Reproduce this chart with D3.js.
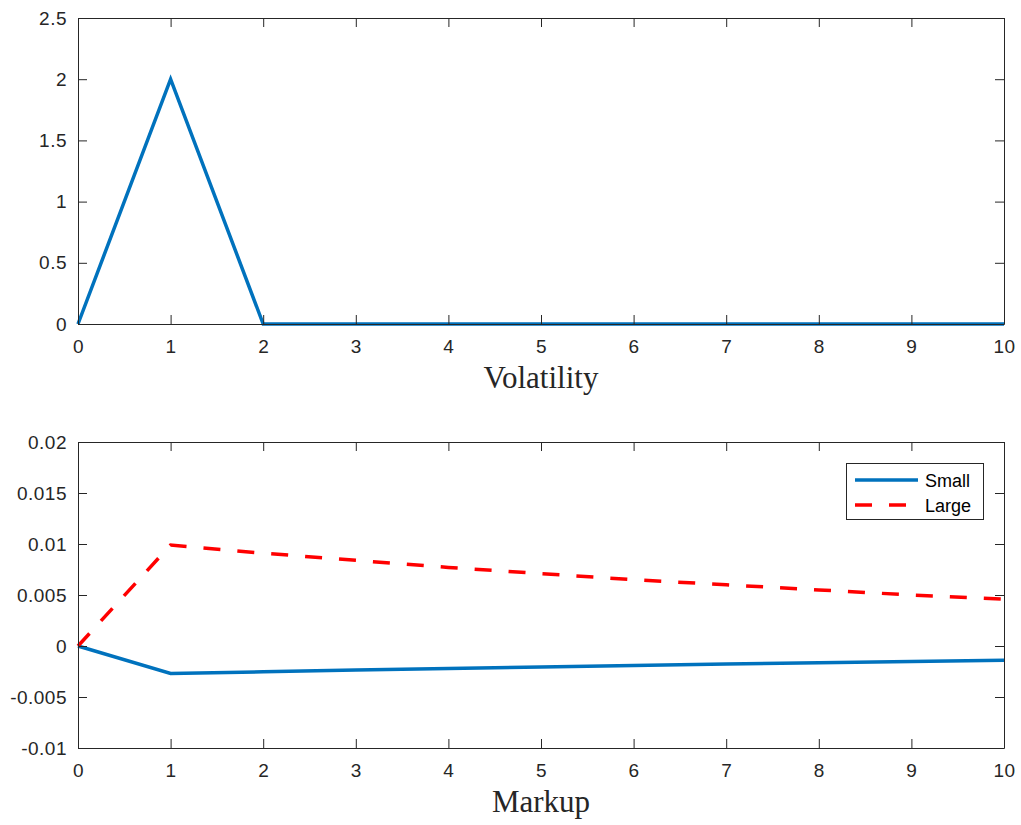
<!DOCTYPE html>
<html>
<head>
<meta charset="utf-8">
<script src="https://cdn.jsdelivr.net/npm/d3@7"></script>
<style>
  body { margin: 0; background: #fff; }
  svg { display: block; }
</style>
</head>
<body>
<svg id="chart" width="1021" height="825"></svg>
<script>
// ---- data ----
const xValues = [0, 1, 2, 3, 4, 5, 6, 7, 8, 9, 10];
const volatility = [0, 2, 0, 0, 0, 0, 0, 0, 0, 0, 0];
const markupSmall = [0, -0.0027, -0.00253, -0.00236, -0.0022, -0.00205, -0.00191, -0.00177, -0.00164, -0.00152, -0.0014];
const markupLarge = [0, 0.0099, 0.0091, 0.0084, 0.0077, 0.0071, 0.0065, 0.0060, 0.0055, 0.0050, 0.0046];
const xTicks = [0, 1, 2, 3, 4, 5, 6, 7, 8, 9, 10];
const topYTicks = [0, 0.5, 1, 1.5, 2, 2.5];
const topYLabels = ["0", "0.5", "1", "1.5", "2", "2.5"];
const botYTicks = [-0.01, -0.005, 0, 0.005, 0.01, 0.015, 0.02];
const botYLabels = ["-0.01", "-0.005", "0", "0.005", "0.01", "0.015", "0.02"];
const legendLabels = ["Small", "Large"];

const svg = d3.select("#chart");
const axisColor = "#262626";
const blue = "#0072BD", red = "#FF0000";
const L = 78, R = 1004;
const tickFont = "'Liberation Sans', Arial, sans-serif";

function panel(top, bottom, yDomain, yTicks, yLabels, xLabel, series) {
  const x = d3.scaleLinear().domain([0, 10]).range([L, R]);
  const y = d3.scaleLinear().domain(yDomain).range([bottom, top]);
  const g = svg.append("g");
  const tl = 9;
  const line = d3.line().x((d, i) => x(xValues[i])).y(d => y(d));
  series.forEach(s => {
    g.append("path").datum(s.values)
      .attr("d", line)
      .attr("fill", "none")
      .attr("stroke", s.color)
      .attr("stroke-width", 3.5)
      .attr("stroke-linejoin", "miter")
      .attr("stroke-dasharray", s.dash || null);
  });
  const bottomAx = d3.axisBottom(x).tickValues(xTicks).tickSizeInner(-tl).tickSizeOuter(0).tickPadding(16).tickFormat(d3.format("d"));
  const topAx = d3.axisTop(x).tickValues(xTicks).tickSizeInner(-tl).tickSizeOuter(0).tickFormat("");
  const leftAx = d3.axisLeft(y).tickValues(yTicks).tickSizeInner(-tl).tickSizeOuter(0).tickPadding(11).tickFormat((d, i) => yLabels[i]);
  const rightAx = d3.axisRight(y).tickValues(yTicks).tickSizeInner(-tl).tickSizeOuter(0).tickFormat("");
  const styleAx = sel => {
    sel.selectAll("path").attr("stroke", axisColor).attr("stroke-width", 1);
    sel.selectAll("line").attr("stroke", axisColor).attr("stroke-width", 1);
    sel.selectAll("text").attr("fill", axisColor)
      .style("font-family", tickFont).style("font-size", "19px").style("letter-spacing", "0.5px");
  };
  g.append("g").attr("transform", `translate(0,${bottom})`).call(bottomAx).call(styleAx);
  g.append("g").attr("transform", `translate(0,${top})`).call(topAx).call(styleAx);
  g.append("g").attr("transform", `translate(${L},0)`).call(leftAx).call(styleAx);
  g.append("g").attr("transform", `translate(${R},0)`).call(rightAx).call(styleAx);
  g.selectAll(".domain").attr("fill", "none");
  g.append("text").attr("x", (L + R) / 2).attr("y", bottom + 64)
    .attr("text-anchor", "middle")
    .style("font-family", "'Liberation Serif', 'Times New Roman', serif")
    .style("font-size", "31px").attr("fill", axisColor).text(xLabel);
  return { x, y, g };
}

panel(18, 324, [0, 2.5], topYTicks, topYLabels, "Volatility",
  [{ values: volatility, color: blue }]);

panel(442, 748, [-0.01, 0.02], botYTicks, botYLabels, "Markup",
  [{ values: markupSmall, color: blue }, { values: markupLarge, color: red, dash: "17,17" }]);

// legend
const lg = svg.append("g");
lg.append("rect").attr("x", 846.5).attr("y", 463.5).attr("width", 137).attr("height", 56)
  .attr("fill", "#fff").attr("stroke", axisColor).attr("stroke-width", 1);
const legendStyles = [{ color: blue, dash: null }, { color: red, dash: "17,17" }];
legendLabels.forEach((lab, i) => {
  const yy = 480 + i * 25;
  lg.append("line").attr("x1", 855).attr("x2", 918).attr("y1", yy).attr("y2", yy)
    .attr("stroke", legendStyles[i].color).attr("stroke-width", 3.5)
    .attr("stroke-dasharray", legendStyles[i].dash);
  lg.append("text").attr("x", 925).attr("y", yy + 7)
    .style("font-family", tickFont).style("font-size", "18px")
    .attr("fill", "#000").text(lab);
});
</script>
</body>
</html>
